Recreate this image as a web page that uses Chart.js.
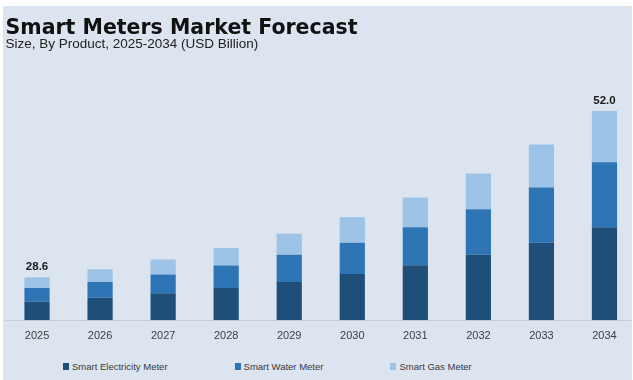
<!DOCTYPE html>
<html>
<head>
<meta charset="utf-8">
<script src="https://cdn.jsdelivr.net/npm/chart.js@4"></script>
<style>
  html, body { margin: 0; padding: 0; background: #fff; }
  body { width: 633px; height: 380px; position: relative; overflow: hidden; }
  #panel {
    position: absolute; left: 3px; top: 6px; width: 629px; height: 374px;
    background: #dce4f0; overflow: hidden;
  }
  #wrap { position: absolute; left: 0; top: 0; width: 633px; height: 354px; }
  #legend {
    position: absolute; left: 60px; top: 355px;
    display: flex; gap: 67px;
    font: 9.5px "Liberation Sans", Arial, sans-serif; color: #3a3a3a;
  }
  #legend span { display: flex; align-items: center; white-space: nowrap; }
  #legend i { display: inline-block; width: 6px; height: 7px; margin-right: 3px; }
</style>
</head>
<body>
<div id="panel">
  <div id="wrap"><canvas id="chart"></canvas></div>
  <div id="legend"></div>
</div>
<script>
const years = ['2025', '2026', '2027', '2028', '2029', '2030', '2031', '2032', '2033', '2034']
const electricity = [4.6, 5.6, 6.7, 8.0, 9.5, 11.5, 13.7, 16.3, 19.3, 23.1]
const water = [3.4, 3.9, 4.7, 5.6, 6.8, 7.8, 9.4, 11.3, 13.7, 16.2]
const gas = [2.7, 3.2, 3.7, 4.4, 5.2, 6.3, 7.4, 8.9, 10.7, 12.7]
const totalLabels = ['28.6', '', '', '', '', '', '', '', '', '52.0']

const seriesNames = ['Smart Electricity Meter', 'Smart Water Meter', 'Smart Gas Meter']
const colors = ['#1f4e79', '#2e75b6', '#9dc3e6']

const totalsPlugin = {
  id: 'totals',
  afterDatasetsDraw(chart) {
    const meta = chart.getDatasetMeta(2)
    const ctx = chart.ctx
    ctx.save()
    ctx.font = 'bold 11.5px "Liberation Sans", Arial, sans-serif'
    ctx.fillStyle = '#1a1a1a'
    ctx.textAlign = 'center'
    ctx.textBaseline = 'alphabetic'
    totalLabels.forEach((label, i) => {
      if (!label) return
      const bar = meta.data[i]
      ctx.fillText(label, bar.x, bar.y - 7)
    })
    ctx.restore()
  },
}

const ctx = document.getElementById('chart').getContext('2d')

const chart = new Chart(ctx, {
  type: 'bar',
  data: {
    labels: years,
    datasets: [electricity, water, gas].map((data, i) => ({
      label: seriesNames[i],
      data,
      backgroundColor: colors[i],
      borderWidth: 0,
      categoryPercentage: 1,
      barPercentage: 0.4,
      clip: 0,
    })),
  },
  options: {
    responsive: true,
    maintainAspectRatio: false,
    animation: false,
    layout: { padding: { left: 2.5, right: 0, top: 6, bottom: 8.5 } },
    plugins: {
      legend: { display: false },
      tooltip: { enabled: false },
      title: {
        display: true,
        text: 'Smart Meters Market Forecast',
        align: 'start',
        color: '#111',
        font: { family: '"DejaVu Sans", sans-serif', size: 20.5, weight: 'bold', lineHeight: 1.1 },
        padding: { top: 5, bottom: -2 },
      },
      subtitle: {
        display: true,
        text: 'Size, By Product, 2025-2034 (USD Billion)',
        align: 'start',
        color: '#222',
        font: { family: '"Liberation Sans", Arial, sans-serif', size: 13.5, lineHeight: 1 },
        padding: { top: 0, bottom: 27.85 },
      },
    },
    scales: {
      x: {
        stacked: true,
        grid: { display: false, drawTicks: false },
        border: { display: true, color: '#c6cfdc', width: 1 },
        ticks: {
          color: '#404040',
          padding: 9,
          font: { family: '"Liberation Sans", Arial, sans-serif', size: 11 },
        },
      },
      y: {
        stacked: true,
        display: false,
        min: 0,
        max: 60,
      },
    },
  },
  plugins: [totalsPlugin],
})

// legend built from the same names and colours
document.getElementById('legend').innerHTML = seriesNames
  .map((name, i) => `<span><i style="background:${colors[i]}"></i>${name}</span>`)
  .join('')
</script>
</body>
</html>
